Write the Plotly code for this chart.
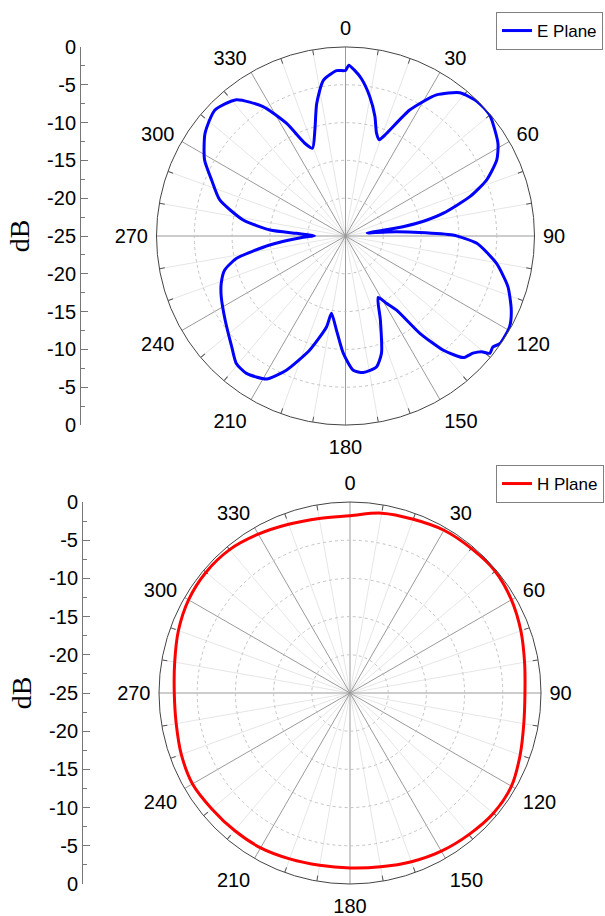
import plotly.graph_objects as go

# ---------------- data ----------------
e_theta = [0, 1.1, 3, 5.8, 9.9, 13.8, 16.8, 19.3, 21.8, 27.0, 32.8, 38.6, 44.6, 50.0,
           58.7, 63.3, 68.3, 72.4, 76.9, 79.3, 80.8, 81.3, 82.0, 84.4, 87.2, 89.5,
           93.2, 100.3, 107.3, 114.0, 118.9, 124.9, 127.0, 129.1, 130.4, 132.6, 135.9,
           139.4, 142.6, 145.4, 148.7, 152.1, 157.4, 162.9, 166.7, 172.6, 176.7, 181.1,
           185.5, 190.3, 191.8, 197.4, 203.8, 208.9, 215.8, 220.6, 225.8, 235.2, 243.9,
           249.1, 254.3, 258.4, 263.2, 268.2, 270.6, 273.1, 274.5, 278.9, 286.0, 292.7,
           298.4, 306.1, 313.9, 321.3, 327.5, 332.4, 336.3, 339.4, 343.9, 347.7, 351.9,
           356.9]
e_db = [-3.1, -2.4, -3.0, -4.1, -6.3, -8.7, -10.8, -11.5, -10.4, -6.3, -2.8, -0.75, -0.1, -0.1,
        -1.4, -2.6, -4.9, -7.7, -11.7, -14.5, -17.3, -20.8, -22.1, -19.5, -15.2, -10.8,
        -7.6, -4.7, -2.5, -1.0, -0.2, -0.1, -0.6, -0.4, -1.4, -2.1, -2.6,
        -5.1, -8.8, -13.1, -14.6, -15.8, -13.0, -8.8, -7.2, -6.8, -7.2, -9.5,
        -12.5, -14.6, -12.7, -9.2, -5.6, -3.4, -2.6, -2.8, -4.0, -5.6, -6.7,
        -7.4, -8.4, -10.3, -14.9, -19.4, -20.9, -18.5, -15.0, -11.3, -7.7, -5.8,
        -3.8, -2.0, -1.0, -1.9, -4.7, -8.2, -11.6, -12.6, -10.4, -7.1, -4.2,
        -3.1]

h_theta = [0, 10, 20, 30, 40, 50, 60, 70, 80, 90, 100, 110, 120, 130, 140, 150, 160, 170,
           180, 190, 200, 210, 220, 230, 240, 250, 260, 270, 280, 290, 300, 310, 320, 330,
           340, 350]
h_db = [-1.8, -1.1, -0.8, -0.4, -0.3, -0.2, -0.6, -1.2, -1.8, -2.1, -1.9, -1.3, -0.6, -0.5,
        -0.8, -1.1, -1.5, -1.9, -2.1, -2.1, -1.9, -1.6, -1.5, -1.4, -1.2, -1.5, -1.9, -2.0,
        -1.7, -1.1, -0.6, -0.4, -0.5, -1.0, -1.5, -1.8]

angle_ticks = list(range(0, 360, 30))
angle_labels = [str(a) for a in angle_ticks]
minor_angles = [a for a in range(0, 360, 10) if a % 30]
db_tickvals = [-25, -20, -15, -10, -5, 0, 5, 10, 15, 20, 25]
db_ticktext = ["0", "-5", "-10", "-15", "-20", "-25", "-20", "-15", "-10", "-5", "0"]

FONT = "Liberation Sans, Arial, sans-serif"
W, H = 605, 916

# ---------------- geometry ----------------
top_dom_x = [156.5 / W, 534.5 / W]
top_dom_y = [(H - 425) / H, (H - 47) / H]
bot_dom_x = [159 / W, 541 / W]
bot_dom_y = [(H - 884) / H, (H - 502) / H]

fig = go.Figure()


def closed(vals, first):
    return vals + [first]


# base (minor grid) polar subplots get an empty trace so they are drawn
fig.add_trace(go.Scatterpolar(r=[], theta=[], subplot="polar", showlegend=False, hoverinfo="skip"))
fig.add_trace(go.Scatterpolar(r=closed(e_db, e_db[0]), theta=closed(e_theta, 360), mode="lines",
                              line=dict(color="#0000ff", width=3, shape="spline", smoothing=0.6),
                              name="E Plane", subplot="polar2", legend="legend"))
fig.add_trace(go.Scatterpolar(r=[], theta=[], subplot="polar3", showlegend=False, hoverinfo="skip"))
fig.add_trace(go.Scatterpolar(r=closed(h_db, h_db[0]), theta=closed(h_theta, 360), mode="lines",
                              line=dict(color="#ff0000", width=3, shape="spline", smoothing=1.0),
                              name="H Plane", subplot="polar4", legend="legend2"))

# empty cartesian traces so the dB scales are drawn
fig.add_trace(go.Scatter(x=[], y=[], xaxis="x", yaxis="y", showlegend=False, hoverinfo="skip"))
fig.add_trace(go.Scatter(x=[], y=[], xaxis="x2", yaxis="y2", showlegend=False, hoverinfo="skip"))


def minor_polar(dx, dy):
    return dict(
        domain=dict(x=dx, y=dy), bgcolor="white",
        angularaxis=dict(rotation=90, direction="clockwise", tickmode="array",
                         tickvals=minor_angles, showticklabels=False,
                         ticks="inside", ticklen=5, tickcolor="#555",
                         gridcolor="#e6e6e6", gridwidth=1, showline=False),
        radialaxis=dict(range=[-25, 0], showgrid=False, showticklabels=False,
                        ticks="", showline=False),
    )


def major_polar(dx, dy):
    return dict(
        domain=dict(x=dx, y=dy), bgcolor="rgba(0,0,0,0)",
        angularaxis=dict(rotation=90, direction="clockwise", tickmode="array",
                         tickvals=angle_ticks, ticktext=angle_labels,
                         tickfont=dict(family=FONT, size=20, color="black"),
                         ticks="outside", ticklen=4, tickcolor="rgba(0,0,0,0)",
                         gridcolor="#9a9a9a", gridwidth=1,
                         showline=True, linecolor="#444", linewidth=1),
        radialaxis=dict(range=[-25, 0], dtick=5, tick0=0, showgrid=True,
                        gridcolor="#c4c4c4", griddash="dot", gridwidth=1,
                        showticklabels=False, ticks="", showline=False),
    )


def db_axis(dom):
    return dict(domain=dom, range=[-25, 25], anchor="free", side="left",
                automargin=False,
                tickmode="array", tickvals=db_tickvals, ticktext=db_ticktext,
                ticks="inside", ticklen=7, tickcolor="#777", tickwidth=1,
                minor=dict(tickmode="linear", tick0=-25, dtick=2.5, ticks="inside",
                           ticklen=4, tickcolor="#777", tickwidth=1),
                showline=True, linecolor="#777", linewidth=1,
                showgrid=False, zeroline=False,
                tickfont=dict(family=FONT, size=20, color="black"),
                title=dict(text="dB", font=dict(family="Liberation Serif, Times New Roman, serif",
                                                size=28, color="black"), standoff=8),
                fixedrange=True)


fig.update_layout(
    width=W, height=H,
    margin=dict(l=0, r=0, t=0, b=0, autoexpand=False),
    paper_bgcolor="white", plot_bgcolor="rgba(0,0,0,0)",
    font=dict(family=FONT, size=17, color="black"),
    polar=minor_polar(top_dom_x, top_dom_y),
    polar2=major_polar(top_dom_x, top_dom_y),
    polar3=minor_polar(bot_dom_x, bot_dom_y),
    polar4=major_polar(bot_dom_x, bot_dom_y),
    xaxis=dict(domain=[80 / W, 90 / W], visible=False, anchor="y", fixedrange=True, automargin=False),
    xaxis2=dict(domain=[82 / W, 92 / W], visible=False, anchor="y2", fixedrange=True, automargin=False),
    yaxis=dict(db_axis(top_dom_y), position=80 / W),
    yaxis2=dict(db_axis(bot_dom_y), position=82 / W),
    legend=dict(x=603 / W, xanchor="right", y=(H - 12) / H, yanchor="top",
                bordercolor="#808080", borderwidth=1, bgcolor="white",
                font=dict(family=FONT, size=17, color="black")),
    legend2=dict(x=604 / W, xanchor="right", y=(H - 465) / H, yanchor="top",
                 bordercolor="#808080", borderwidth=1, bgcolor="white",
                 font=dict(family=FONT, size=17, color="black")),
    showlegend=True,
)

fig.write_html("out.html", config={"displayModeBar": False},
               post_script="document.body.style.margin='0';document.body.style.overflow='hidden';")
